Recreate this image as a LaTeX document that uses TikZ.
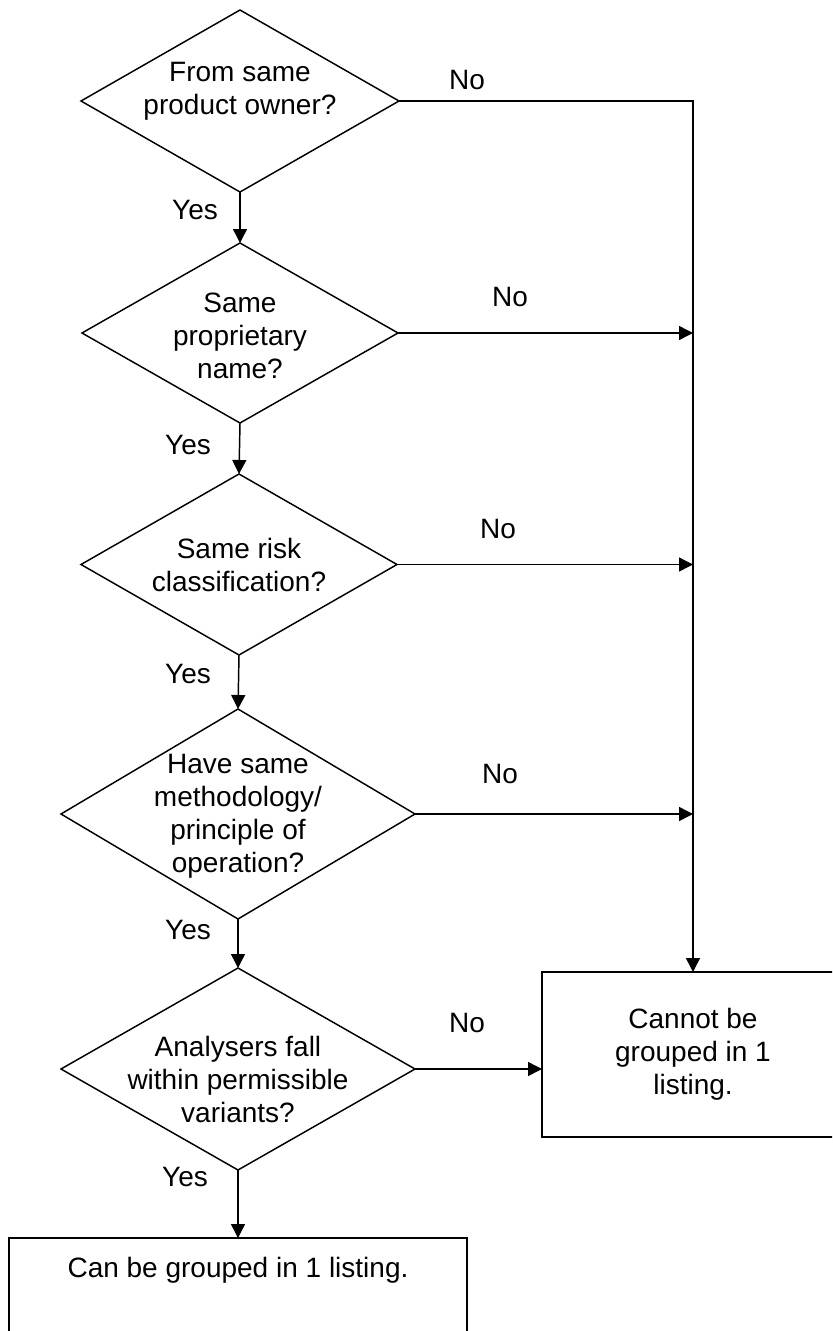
\documentclass[tikz,border=0pt]{standalone}
\usepackage{fontspec}
\setmainfont{Liberation Sans}
\usetikzlibrary{shapes.geometric,arrows.meta}

\tikzset{every picture/.style={line width=1.1pt}}
\tikzset{
  decision/.style={diamond, draw, inner sep=0pt, outer sep=0pt},
  outcome/.style={rectangle, draw, inner sep=0pt, outer sep=0pt, align=center},
  flow/.style={-{Triangle[length=10.5pt,width=10.5pt]}},
}

\begin{document}
\begin{tikzpicture}[x=0.75pt,y=0.75pt,yscale=-1,xscale=1, font=\fontsize{21pt}{24.75pt}\selectfont]
\path [use as bounding box, clip] (0,0) rectangle (832,1331);

% questions
\node [decision, minimum width=238.5pt, minimum height=136.5pt, label={[align=center, yshift=7.5pt]center:From same\\product owner?}] (q1) at (240,101) {};
\node [decision, minimum width=237pt, minimum height=135pt, label={[align=center, yshift=-2pt]center:Same\\proprietary\\name?}] (q2) at (240,333) {};
\node [decision, minimum width=237pt, minimum height=135.75pt, label={[align=center]center:Same risk\\classification?}] (q3) at (239,564.5) {};
\node [decision, minimum width=265.5pt, minimum height=157.5pt, label={[align=center, yshift=-1.5pt]center:Have same\\methodology/\\principle of\\operation?}] (q4) at (238,814) {};
\node [decision, minimum width=265.5pt, minimum height=151.5pt, label={[align=center, yshift=-8pt]center:Analysers fall\\within permissible\\variants?}] (q5) at (238,1069) {};

% results
\node [outcome, minimum width=226.5pt, minimum height=123.75pt] (no) at (693,1054.5) {Cannot be\\grouped in 1\\listing.};
\node [outcome, minimum width=343.5pt, minimum height=78.75pt, anchor=north, label={[anchor=center, yshift=-24pt]north:Can be grouped in 1 listing.}] (yes) at (238,1238) {};

% yes branches
\draw [flow] (q1.south) -- (q2.north);
\draw [flow] (q2.south) -- (q3.north);
\draw [flow] (q3.south) -- (q4.north);
\draw [flow] (q4.south) -- (q5.north);
\draw [flow] (q5.south) -- (yes.north);

% no branches
\coordinate (j2) at (q2.east -| no.north);
\coordinate (j3) at (q3.east -| no.north);
\coordinate (j4) at (q4.east -| no.north);
\coordinate (j5) at (q5.east -| no.west);
\draw [flow] (q1.east) -| (no.north);
\draw [flow] (q2.east) -- (j2);
\draw [flow] (q3.east) -- (j3);
\draw [flow] (q4.east) -- (j4);
\draw [flow] (q5.east) -- (j5);

\node (y1) at (195,210) {Yes};
\node (y2) at (188,445) {Yes};
\node (y3) at (188,674) {Yes};
\node (y4) at (188,930) {Yes};
\node (y5) at (185,1177) {Yes};
\node (n1) at (467,80) {No};
\node (n2) at (510,297) {No};
\node (n3) at (498,529) {No};
\node (n4) at (500,774) {No};
\node (n5) at (467,1023) {No};
\end{tikzpicture}
\end{document}
